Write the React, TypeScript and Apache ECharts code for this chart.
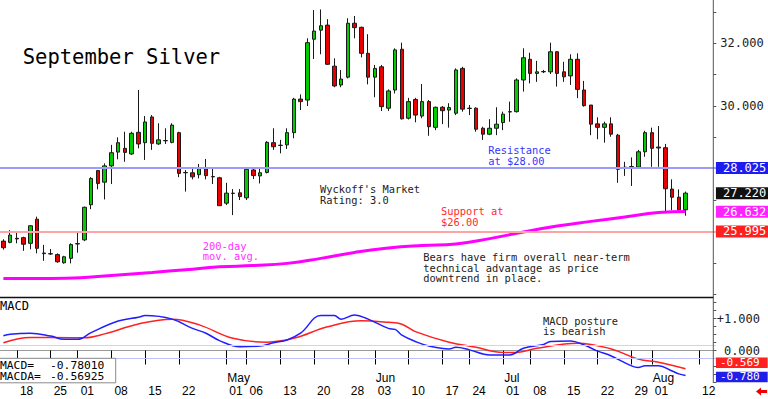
import React, { useEffect, useRef } from "react";
import * as echarts from "echarts";

const MONO = '"DejaVu Sans Mono", monospace';
const SANS = '"Liberation Sans", Arial, sans-serif';

// trading calendar (weekends and exchange holidays skipped)
const HOLIDAYS = ["03-29", "05-27", "06-19", "07-04"];
function buildTradingDays(): string[] {
  const out: string[] = [];
  const d = new Date(Date.UTC(2024, 2, 14));
  const end = Date.UTC(2024, 7, 14);
  while (d.getTime() <= end) {
    const wd = d.getUTCDay();
    const s =
      String(d.getUTCMonth() + 1).padStart(2, "0") + "-" + String(d.getUTCDate()).padStart(2, "0");
    if (wd !== 0 && wd !== 6 && !HOLIDAYS.includes(s)) out.push(s);
    d.setUTCDate(d.getUTCDate() + 1);
  }
  return out;
}
const dates = buildTradingDays();

// [open, close, low, high] from 03-14 onwards
const ohlc: number[][] = [
  [25.69, 25.48, 25.42, 25.75],
  [25.65, 25.88, 25.62, 26.04],
  [25.78, 25.76, 25.62, 25.96],
  [25.8, 25.59, 25.38, 25.83],
  [25.62, 26.18, 25.43, 26.2],
  [26.39, 25.46, 25.3, 26.47],
  [25.29, 25.31, 25.06, 25.57],
  [25.28, 25.29, 25.25, 25.44],
  [25.26, 25.03, 25.0, 25.3],
  [25.0, 25.19, 24.97, 25.22],
  [25.14, 25.58, 24.98, 25.62],
  [25.61, 25.6, 25.32, 25.99],
  [25.73, 26.77, 25.69, 26.79],
  [26.85, 27.69, 26.71, 27.73],
  [27.94, 27.53, 27.34, 27.96],
  [27.57, 28.09, 27.02, 28.17],
  [28.09, 28.51, 27.51, 28.76],
  [28.53, 28.83, 28.3, 29.0],
  [28.65, 28.52, 28.22, 29.18],
  [28.47, 29.13, 28.44, 29.18],
  [29.16, 28.79, 28.65, 30.51],
  [28.83, 29.49, 28.28, 29.68],
  [29.65, 28.81, 28.6, 29.71],
  [28.79, 28.92, 28.76, 29.45],
  [28.89, 28.9, 28.79, 29.29],
  [28.84, 29.39, 28.81, 29.45],
  [29.15, 27.85, 27.73, 29.18],
  [27.87, 27.88, 27.27, 27.96],
  [27.87, 27.74, 27.66, 28.01],
  [27.81, 28.0, 27.69, 28.15],
  [27.99, 27.78, 27.66, 28.31],
  [27.75, 27.74, 27.51, 28.01],
  [27.71, 26.82, 26.81, 27.74],
  [26.9, 27.22, 26.84, 27.55],
  [27.22, 27.21, 26.52, 27.35],
  [27.23, 27.11, 27.0, 27.35],
  [27.07, 27.98, 27.0, 28.01],
  [27.96, 27.78, 27.67, 28.03],
  [27.77, 27.87, 27.53, 28.01],
  [27.88, 28.84, 27.85, 28.88],
  [28.83, 28.7, 28.6, 29.29],
  [28.74, 28.75, 28.49, 28.92],
  [28.76, 29.15, 28.63, 29.29],
  [29.15, 30.22, 28.97, 30.26],
  [30.22, 30.14, 29.87, 30.37],
  [30.19, 32.02, 30.0, 32.16],
  [32.13, 32.39, 31.5, 33.06],
  [32.42, 32.56, 31.65, 33.08],
  [32.58, 31.33, 31.31, 32.77],
  [31.27, 30.64, 30.6, 31.52],
  [30.67, 30.86, 30.6, 31.15],
  [30.92, 32.64, 30.88, 32.8],
  [32.64, 32.5, 32.16, 32.87],
  [32.51, 31.68, 31.55, 32.53],
  [31.68, 30.92, 30.69, 32.29],
  [30.92, 31.2, 30.28, 31.31],
  [31.25, 29.98, 29.84, 31.31],
  [29.93, 30.48, 29.84, 30.53],
  [30.51, 31.79, 30.4, 31.84],
  [31.81, 29.59, 29.57, 32.02],
  [29.61, 30.14, 29.57, 30.26],
  [30.21, 29.71, 29.48, 30.26],
  [29.68, 30.14, 29.61, 30.7],
  [30.14, 29.34, 29.05, 30.19],
  [29.32, 29.96, 29.23, 29.98],
  [29.96, 29.85, 29.42, 30.0],
  [29.87, 29.95, 29.31, 30.09],
  [29.77, 31.15, 29.71, 31.2],
  [31.2, 29.9, 29.82, 31.25],
  [29.92, 29.93, 29.71, 30.03],
  [29.93, 29.26, 29.18, 29.96],
  [29.29, 29.1, 28.92, 29.34],
  [29.1, 29.29, 29.07, 29.58],
  [29.29, 29.42, 29.07, 29.96],
  [29.47, 29.74, 29.23, 29.82],
  [29.81, 29.82, 29.5, 30.14],
  [29.82, 30.83, 29.79, 30.88],
  [30.83, 31.54, 30.46, 31.84],
  [31.49, 31.04, 30.72, 31.7],
  [31.04, 31.09, 30.77, 31.44],
  [31.1, 31.09, 31.05, 31.15],
  [31.09, 31.73, 31.02, 32.02],
  [31.73, 31.04, 30.62, 31.75],
  [31.09, 30.93, 30.77, 31.41],
  [30.96, 31.49, 30.67, 31.65],
  [31.49, 30.53, 30.25, 31.68],
  [30.51, 30.01, 29.98, 30.8],
  [30.03, 29.42, 29.07, 30.03],
  [29.43, 29.32, 28.94, 29.64],
  [29.32, 29.43, 28.83, 29.5],
  [29.43, 29.1, 29.02, 29.64],
  [29.07, 27.98, 27.55, 29.11],
  [28.03, 28.05, 27.77, 28.22],
  [28.07, 28.06, 27.45, 28.36],
  [28.05, 28.54, 28.01, 28.6],
  [28.54, 29.15, 28.38, 29.21],
  [29.15, 28.65, 28.06, 29.31],
  [28.66, 28.69, 28.06, 29.36],
  [28.67, 27.36, 26.6, 28.79],
  [27.35, 27.09, 26.68, 27.66],
  [27.09, 26.69, 26.65, 27.34],
  [26.69, 27.22, 26.5, 27.27],
];

// 200-day moving average, read at points along the curve
const maPoints: [string, number][] = [
  ["03-14", 24.5], ["03-25", 24.5], ["04-02", 24.53], ["04-09", 24.61], ["04-16", 24.69],
  ["04-23", 24.78], ["04-30", 24.87], ["05-07", 24.91], ["05-14", 24.98], ["05-21", 25.14],
  ["05-29", 25.33], ["06-05", 25.47], ["06-12", 25.55], ["06-20", 25.6], ["06-27", 25.77],
  ["07-05", 25.98], ["07-12", 26.17], ["07-19", 26.32], ["07-26", 26.46], ["08-02", 26.6],
  ["08-08", 26.632],
];

const macdPoints: [string, number][] = [
  ["03-14", 0.46], ["03-15", 0.51], ["03-20", 0.54], ["03-25", 0.45], ["03-27", 0.35],
  ["04-01", 0.35], ["04-03", 0.56], ["04-09", 0.92], ["04-12", 1.04], ["04-15", 1.09],
  ["04-19", 0.98], ["04-24", 0.69], ["04-26", 0.54], ["04-30", 0.31], ["05-03", 0.12],
  ["05-08", 0.14], ["05-10", 0.24], ["05-14", 0.33], ["05-16", 0.54], ["05-21", 1.09],
  ["05-23", 1.09], ["05-24", 0.98], ["05-29", 1.11], ["05-31", 0.98], ["06-05", 0.69],
  ["06-06", 0.66], ["06-07", 0.48], ["06-11", 0.28], ["06-13", 0.14], ["06-18", 0.05],
  ["06-20", 0.1], ["06-24", 0.02], ["06-27", -0.14], ["07-02", -0.14], ["07-05", 0.07],
  ["07-10", 0.19], ["07-11", 0.28], ["07-16", 0.3], ["07-18", 0.17], ["07-22", -0.02],
  ["07-24", -0.17], ["07-29", -0.48], ["07-30", -0.53], ["07-31", -0.48], ["08-02", -0.48],
  ["08-06", -0.64], ["08-07", -0.73], ["08-08", -0.78],
];

const signalPoints: [string, number][] = [
  ["03-14", 0.24], ["03-20", 0.41], ["03-28", 0.4], ["04-02", 0.4], ["04-05", 0.52],
  ["04-12", 0.83], ["04-19", 0.98], ["04-25", 0.8], ["05-02", 0.38], ["05-09", 0.26],
  ["05-15", 0.38], ["05-22", 0.74], ["05-30", 0.93], ["06-05", 0.88], ["06-07", 0.82],
  ["06-11", 0.59], ["06-18", 0.26], ["06-25", 0.1], ["07-01", -0.06], ["07-03", -0.06],
  ["07-09", 0.07], ["07-17", 0.23], ["07-24", 0.05], ["07-30", -0.27], ["08-02", -0.37],
  ["08-08", -0.569],
];

const priceTags = [28.025, 27.22, 26.632, 25.995];
const priceTagColors = ["#1c1cf0", "#111111", "#ff22ff", "#ff1f1f"];
const macdTags = [-0.569, -0.78];
const macdTagColors = ["#ff2020", "#1f1fe8"];
const macdRefLevels = [0.15, -0.234];

const dayTicks = [
  "03-18", "03-25", "04-01", "04-08", "04-15", "04-22", "05-01", "05-06", "05-13", "05-20",
  "05-28", "06-03", "06-10", "06-17", "06-24", "07-01", "07-08", "07-15", "07-22", "07-29",
  "08-01", "08-12",
];
const monthStarts = ["05-01", "06-03", "07-01", "08-01"];
const monthNames = ["May", "Jun", "Jul", "Aug"];

const MACD_LAST = "-0.78010";
const MACDA_LAST = "-0.56925";

const toXY = (pts: [string, number][]) => pts.map(([d, v]) => [dates.indexOf(d), v]);

function txt(text: string, x: number, y: number, fill: string, size = 10.4, lh = 10.5, font = MONO) {
  return {
    type: "text",
    x,
    y,
    silent: true,
    z: 100,
    style: { text, fill, fontSize: size, fontFamily: font, lineHeight: lh, verticalAlign: "top", align: "left" },
  };
}

const hiddenLine = { color: "rgba(0,0,0,0)", width: 0, type: "solid" };

export default function App() {
  const ref = useRef<HTMLDivElement>(null);
  useEffect(() => {
    if (!ref.current) return;
    const chart = echarts.init(ref.current, undefined, { renderer: "svg" });
    const band = 6.782;
    const gridLeft = 14 - 2.5 * band;
    const gridWidth = dates.length * band;
    const tickSet = new Set(dayTicks);

    const option: any = {
      animation: false,
      backgroundColor: "#ffffff",
      grid: [
        { left: gridLeft, top: 11.95, width: gridWidth, height: 282.15 },
        { left: gridLeft, top: 302.5, width: gridWidth, height: 80 },
      ],
      xAxis: [
        {
          type: "category",
          gridIndex: 0,
          data: dates,
          boundaryGap: true,
          axisLine: { show: false },
          axisTick: { show: false },
          axisLabel: { show: false },
          splitLine: { show: false },
        },
        {
          type: "category",
          gridIndex: 1,
          data: dates,
          boundaryGap: true,
          axisLine: { show: true, lineStyle: { color: "#9a9a9a", width: 1 } },
          axisTick: {
            show: true,
            alignWithLabel: true,
            interval: (_i: number, v: string) => tickSet.has(v),
            length: 14,
            lineStyle: { color: "#000", width: 1 },
          },
          axisLabel: {
            interval: (_i: number, v: string) => tickSet.has(v),
            margin: -11,
            align: "left",
            formatter: (v: string) => {
              const mi = monthStarts.indexOf(v);
              return `{m|${mi >= 0 ? monthNames[mi] : " "}}\n{d|${v.slice(3)}}`;
            },
            rich: {
              m: { fontFamily: SANS, fontSize: 12, lineHeight: 13, color: "#000", padding: [0, 0, 0, 1] },
              d: { fontFamily: SANS, fontSize: 12, lineHeight: 13, color: "#000", padding: [0, 0, 0, 3] },
            },
          },
          splitLine: { show: false },
        },
      ],
      yAxis: [
        {
          type: "value",
          gridIndex: 0,
          position: "right",
          offset: -2.6,
          min: 24,
          max: 33,
          interval: 1,
          axisLine: { show: false },
          axisTick: { show: true, length: 3, lineStyle: { color: "#555" } },
          axisLabel: {
            margin: 7,
            fontFamily: MONO,
            fontSize: 12,
            color: "#222",
            formatter: (v: number) => (v === 30 || v === 32 ? v.toFixed(3) : ""),
          },
          splitLine: { show: false },
        },
        {
          type: "value",
          gridIndex: 1,
          position: "right",
          offset: -2.6,
          min: -1,
          max: 1.5,
          interval: 0.25,
          axisLine: { show: false },
          axisTick: { show: true, length: 3, lineStyle: { color: "#555" } },
          axisLabel: {
            margin: 46.7,
            align: "right",
            fontFamily: MONO,
            fontSize: 12,
            color: "#222",
            formatter: (v: number) => (v === 1 ? "+1.000" : v === 0 ? "0.000" : ""),
          },
          splitLine: { show: false },
        },
      ],
      series: [
        {
          type: "candlestick",
          xAxisIndex: 0,
          yAxisIndex: 0,
          data: ohlc,
          barWidth: 4,
          clip: false,
          itemStyle: {
            color: "#00cc00",
            color0: "#e80000",
            borderColor: "#1a1a1a",
            borderColor0: "#1a1a1a",
            borderWidth: 1,
          },
          markLine: {
            silent: true,
            symbol: "none",
            data: priceTags.map((v, k) => ({
              yAxis: v,
              lineStyle:
                k === 0
                  ? { color: "#9c9cff", width: 2, type: "solid" }
                  : k === 3
                  ? { color: "#ffa4a4", width: 2, type: "solid" }
                  : hiddenLine,
              label: {
                show: true,
                position: "end",
                distance: 0,
                formatter: () => v.toFixed(3),
                color: "#fff",
                backgroundColor: priceTagColors[k],
                padding: [1, 2, 0, 7],
                fontFamily: MONO,
                fontSize: 12,
                lineHeight: 11,
              },
            })),
          },
        },
        {
          type: "line",
          xAxisIndex: 0,
          yAxisIndex: 0,
          data: toXY(maPoints),
          smooth: true,
          showSymbol: false,
          lineStyle: { color: "#ff00ff", width: 3 },
          z: 3,
        },
        {
          type: "line",
          xAxisIndex: 1,
          yAxisIndex: 1,
          data: toXY(signalPoints),
          smooth: 0.4,
          showSymbol: false,
          lineStyle: { color: "#ff2020", width: 1.5 },
          markLine: {
            silent: true,
            symbol: "none",
            label: { show: false },
            data: macdRefLevels.map((v, k) => ({
              yAxis: v,
              lineStyle: { color: k === 0 ? "#ffc4c4" : "#c0c0ff", width: 1, type: "solid" },
            })),
          },
        },
        {
          type: "line",
          xAxisIndex: 1,
          yAxisIndex: 1,
          data: toXY(macdPoints),
          smooth: 0.4,
          showSymbol: false,
          lineStyle: { color: "#1f1fff", width: 1.5 },
          markLine: {
            silent: true,
            symbol: "none",
            data: macdTags.map((v, k) => ({
              yAxis: v,
              lineStyle: hiddenLine,
              label: {
                show: true,
                position: "end",
                distance: 0,
                offset: k === 0 ? [0, -6] : [0, 1.5],
                formatter: () => v.toFixed(3),
                color: "#fff",
                backgroundColor: macdTagColors[k],
                padding: [0, 8, 0, 4],
                fontFamily: MONO,
                fontSize: 11,
                lineHeight: 10.5,
              },
            })),
          },
        },
      ],
      graphic: [
        { type: "line", silent: true, z: 100, shape: { x1: 713.3, y1: 0, x2: 713.3, y2: 383 }, style: { stroke: "#555", lineWidth: 1 } },
        { type: "line", silent: true, z: 100, shape: { x1: 0, y1: 297.5, x2: 713.3, y2: 297.5 }, style: { stroke: "#111", lineWidth: 1.5 } },
        {
          type: "text",
          x: 22.7,
          y: 56.5,
          silent: true,
          z: 100,
          style: { text: "September Silver", fill: "#000", fontSize: 20.5, fontFamily: MONO, verticalAlign: "middle" },
        },
        txt("Resistance\nat $28.00", 488.3, 144.8, "#3535ff"),
        txt("Wyckoff's Market\nRating: 3.0", 320, 183.8, "#222"),
        txt("Support at\n$26.00", 441, 205.8, "#ff2a2a"),
        txt("Bears have firm overall near-term\ntechnical advantage as price\ndowntrend in place.", 423.3, 251.8, "#222"),
        txt("200-day\nmov. avg.", 202.7, 240.3, "#ff33ff"),
        txt("MACD posture\nis bearish", 543, 315.3, "#222"),
        txt("MACD", 0, 300, "#000", 12, 12),
        {
          type: "rect",
          silent: true,
          z: 100,
          shape: { x: -1, y: 358.3, width: 116.7, height: 24.5 },
          style: { fill: "#fff", stroke: "#8a8a8a", lineWidth: 1 },
        },
        txt("MACD=", 0, 359.8, "#000", 11.3, 10.5),
        txt(MACD_LAST, 50, 359.8, "#000", 11.3, 10.5),
        txt("MACDA=", 0, 371.5, "#000", 11.3, 10.5),
        txt(MACDA_LAST, 50, 371.5, "#000", 11.3, 10.5),
        {
          type: "polygon",
          silent: true,
          z: 100,
          shape: { points: [[756, 391.5], [761, 387.5], [761, 390], [767, 390], [767, 393], [761, 393], [761, 395.5]] },
          style: { fill: "#ee0000" },
        },
      ],
    };
    chart.setOption(option);
    return () => chart.dispose();
  }, []);

  return (
    <div
      ref={ref}
      style={{ position: "absolute", left: 0, top: 0, width: 768, height: 399, background: "#fff" }}
    />
  );
}
